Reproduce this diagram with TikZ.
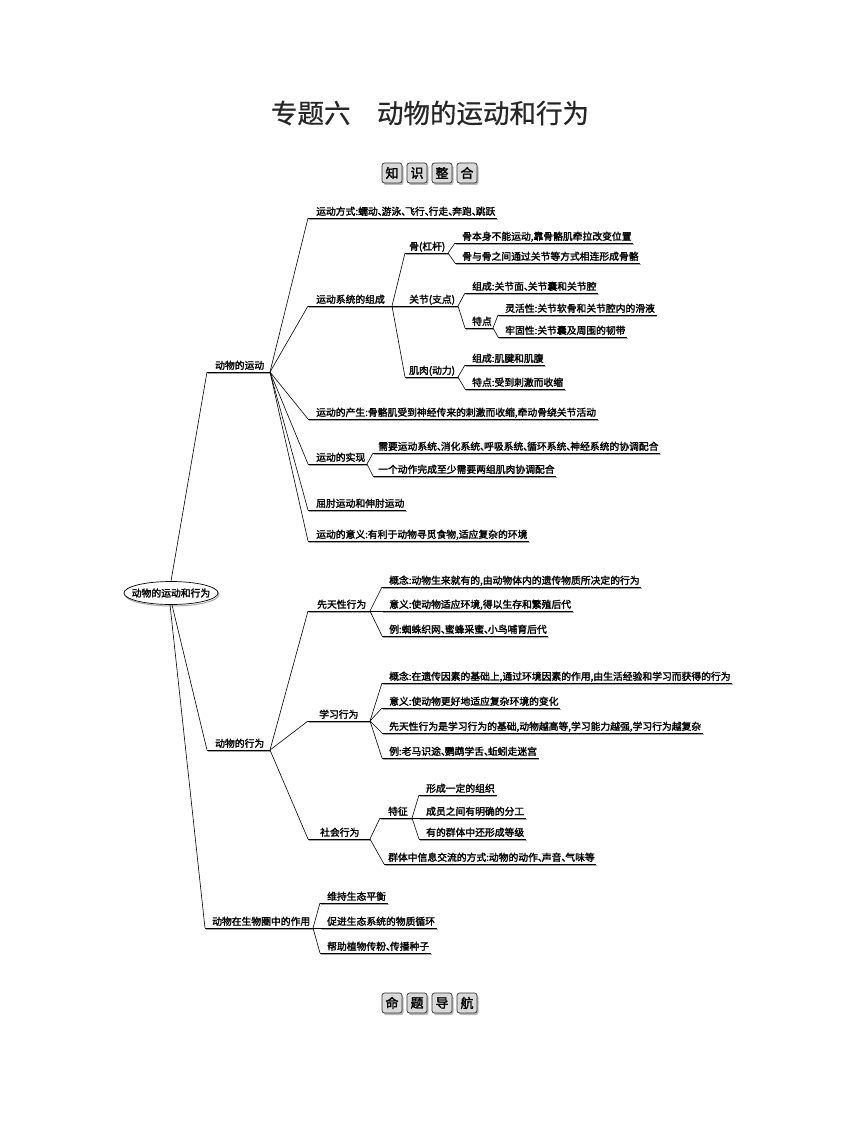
\documentclass[tikz,border=0pt]{standalone}
\usepackage{fontspec}
\setmainfont{Noto Sans CJK SC}
\newfontfamily\mapf{Noto Sans CJK SC}[FakeBold=2]
\newfontfamily\titlef{Noto Sans CJK SC}[FakeBold=0.6]
\usetikzlibrary{shapes.geometric}
\newcommand\dn{、\kern-0.6em}
\tikzset{
  lbl/.style={font=\mapf\fontsize{9.8}{11}\selectfont, inner xsep=1.5pt, inner ysep=0pt, anchor=base west},
  ul/.style={line width=0.8pt, black},
  ulsh/.style={line width=0.9pt, black!35},
  conn/.style={line width=0.6pt, black},
  titlestyle/.style={font=\titlef\fontsize{26.5}{27}\selectfont, text=black!85, inner sep=0pt},
  kbox/.style={draw=black!80, line width=0.7pt, fill=black!15, rounded corners=2.5pt, minimum width=20pt, minimum height=20pt, inner sep=0pt, font=\mapf\fontsize{13}{13}\selectfont},
  rootell/.style={draw, ellipse, line width=0.7pt, fill=white, minimum width=94pt, minimum height=23pt, inner sep=0pt},
  roottext/.style={font=\mapf\fontsize{9.8}{11}\selectfont, inner sep=0pt}
}
% #1 optional end x, #2 name, #3 start x, #4 underline y, #5 text x, #6 text
\newcommand\mm[6][]{%
  \coordinate (#2s) at (#3,#4);
  \node[lbl] (#2) at (#5-1.5,#4-3) {#6};
  \if\relax\detokenize{#1}\relax
    \coordinate (#2e) at (#2.east |- #2s);
  \else
    \coordinate (#2e) at (#1,#4);
  \fi
  \draw[ulsh] ([shift={(0.8pt,-1.1pt)}]#2s) -- ([shift={(0.8pt,-1.1pt)}]#2e);
  \draw[ul] (#2s) -- (#2e);
}
% key box: #1 name, #2 x, #3 y, #4 char
\newcommand\kb[4]{%
  \fill[black!28, rounded corners=2.5pt] (#2-8.5,#3-8) rectangle (#2+11.5,#3+12);
  \node[kbox] (#1) at (#2,#3) {#4};
}
\begin{document}
\begin{tikzpicture}[x=1pt,y=-1pt]
\useasboundingbox (0,0) rectangle (860,1126);
\fill[white] (0,0) rectangle (860,1126);

\node[titlestyle] (title) at (430,113) {专题六\hspace{1em}动物的运动和行为};

\kb{k1b}{392}{173}{知}
\kb{k2b}{417}{173}{识}
\kb{k3b}{442}{173}{整}
\kb{k4b}{467}{173}{合}

\kb{m1b}{392}{1003}{命}
\kb{m2b}{417}{1003}{题}
\kb{m3b}{442}{1003}{导}
\kb{m4b}{467}{1003}{航}

% root
\draw[black!35, line width=1pt] (172,594.5) ellipse [x radius=47pt, y radius=11.5pt];
\node[rootell] (root) at (171,593) {};
\node[roottext] (roott) at (root.center) {动物的运动和行为};

% level 1
\mm[270]{La}{207}{372}{215}{动物的运动}
\mm[270]{Lb}{207}{750}{215}{动物的行为}
\mm[313]{Lc}{205}{928}{212}{动物在生物圈中的作用}

% movement
\mm{a1}{308}{218}{316}{运动方式:蠕动\dn 游泳\dn 飞行\dn 行走\dn 奔跑\dn 跳跃}
\mm[392]{a2}{308}{306}{316}{运动系统的组成}
\mm{a3}{308}{419}{316}{运动的产生:骨骼肌受到神经传来的刺激而收缩,牵动骨绕关节活动}
\mm[367]{a4}{308}{464}{316}{运动的实现}
\mm{a5}{308}{510}{316}{屈肘运动和伸肘运动}
\mm{a6}{308}{541}{316}{运动的意义:有利于动物寻觅食物,适应复杂的环境}

\mm[448]{b1}{405}{253}{409}{骨(杠杆)}
\mm[458]{b2}{392}{306}{409}{关节(支点)}
\mm[458]{b3}{405}{377}{409}{肌肉(动力)}

\mm{c1}{455}{243}{462}{骨本身不能运动,靠骨骼肌牵拉改变位置}
\mm{c2}{455}{263}{462}{骨与骨之间通过关节等方式相连形成骨骼}
\mm{c3}{465}{293}{472}{组成:关节面\dn 关节囊和关节腔}
\mm[493]{c4}{465}{328}{472}{特点}
\mm{d1}{498}{315}{505}{灵活性:关节软骨和关节腔内的滑液}
\mm{d2}{498}{337}{505}{牢固性:关节囊及周围的韧带}
\mm{c5}{465}{365}{472}{组成:肌腱和肌腹}
\mm{c6}{465}{389}{472}{特点:受到刺激而收缩}

\mm{e1}{373}{453}{378}{需要运动系统\dn 消化系统\dn 呼吸系统\dn 循环系统\dn 神经系统的协调配合}
\mm{e2}{373}{476}{378}{一个动作完成至少需要两组肌肉协调配合}

% behaviour
\mm[370]{f1}{308}{611}{317}{先天性行为}
\mm[370]{f2}{308}{721}{319}{学习行为}
\mm[370]{f3}{308}{839}{320}{社会行为}

\mm{g1}{382}{587}{389}{概念:动物生来就有的,由动物体内的遗传物质所决定的行为}
\mm{g2}{382}{611}{389}{意义:使动物适应环境,得以生存和繁殖后代}
\mm{g3}{382}{636}{389}{例:蜘蛛织网\dn 蜜蜂采蜜\dn 小鸟哺育后代}
\mm{h1}{382}{683}{389}{概念:在遗传因素的基础上,通过环境因素的作用,由生活经验和学习而获得的行为}
\mm{h2}{382}{708}{389}{意义:使动物更好地适应复杂环境的变化}
\mm{h3}{382}{733}{389}{先天性行为是学习行为的基础,动物越高等,学习能力越强,学习行为越复杂}
\mm{h4}{382}{758}{389}{例:老马识途\dn 鹦鹉学舌\dn 蚯蚓走迷宫}

\mm[412]{i1}{380}{818}{388}{特征}
\mm{i2}{384}{864}{388}{群体中信息交流的方式:动物的动作\dn 声音\dn 气味等}
\mm{j1}{419}{795}{426}{形成一定的组织}
\mm{j2}{419}{818}{426}{成员之间有明确的分工}
\mm{j3}{419}{839}{426}{有的群体中还形成等级}

% biosphere
\mm{k1}{320}{903}{327}{维持生态平衡}
\mm{k2}{320}{928}{327}{促进生态系统的物质循环}
\mm{k3}{320}{953}{327}{帮助植物传粉\dn 传播种子}

% connectors
\draw[conn] (root.north) -- (Las);
\draw[conn] ([xshift=1pt]root.south) -- (Lbs);
\draw[conn] ([xshift=-1pt]root.south) -- (Lcs);
\foreach \q in {a1,a2,a3,a4,a5,a6} \draw[conn] (Lae) -- (\q s);
\foreach \q in {b1,b2,b3} \draw[conn] (a2e) -- (\q s);
\foreach \q in {c1,c2} \draw[conn] (b1e) -- (\q s);
\foreach \q in {c3,c4} \draw[conn] (b2e) -- (\q s);
\foreach \q in {d1,d2} \draw[conn] (c4e) -- (\q s);
\foreach \q in {c5,c6} \draw[conn] (b3e) -- (\q s);
\foreach \q in {e1,e2} \draw[conn] (a4e) -- (\q s);
\foreach \q in {f1,f2,f3} \draw[conn] (Lbe) -- (\q s);
\foreach \q in {g1,g2,g3} \draw[conn] (f1e) -- (\q s);
\foreach \q in {h1,h2,h3,h4} \draw[conn] (f2e) -- (\q s);
\foreach \q in {i1,i2} \draw[conn] (f3e) -- (\q s);
\foreach \q in {j1,j2,j3} \draw[conn] (i1e) -- (\q s);
\foreach \q in {k1,k2,k3} \draw[conn] (Lce) -- (\q s);
\end{tikzpicture}
\end{document}
